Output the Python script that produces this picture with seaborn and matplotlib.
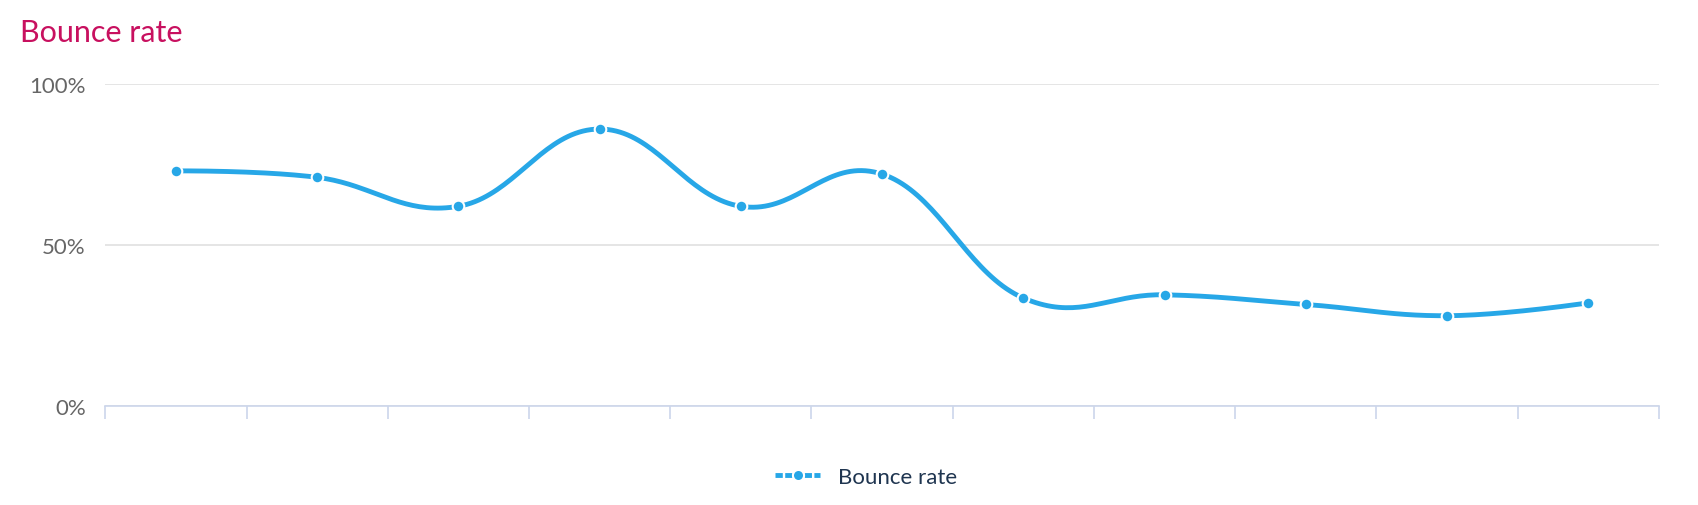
import numpy as np
import pandas as pd
import seaborn as sns
import matplotlib.pyplot as plt
from matplotlib.lines import Line2D

# --- Data ---
points = list(range(11))
bounce_rate = [73, 71, 62, 86, 62, 72, 33.5, 34.5, 31.5, 28, 32]
y_ticks = [0, 50, 100]
y_labels = ["0%", "50%", "100%"]

df = pd.DataFrame({"idx": points, "rate": bounce_rate})

blue = "#27a7e7"
sns.set_style("white")
plt.rcParams['font.family'] = ['Lato', 'DejaVu Sans']

fig = plt.figure(figsize=(16.98, 5.06), dpi=100)
ax = fig.add_axes([0.062, 0.196, 0.915, 0.636])


# smooth curve through the points (Highcharts-like spline)
def spline(xs, ys, n=40):
    xs = np.asarray(xs, float); ys = np.asarray(ys, float)
    out_x, out_y = [], []
    sm = 1.5
    for i in range(len(xs) - 1):
        p0, p3 = np.array([xs[i], ys[i]]), np.array([xs[i + 1], ys[i + 1]])
        def ctrl(j, side):
            if j == 0 or j == len(xs) - 1:
                return np.array([xs[j], ys[j]])
            lx = (sm * xs[j] + xs[j - 1]) / (sm + 1); ly = (sm * ys[j] + ys[j - 1]) / (sm + 1)
            rx = (sm * xs[j] + xs[j + 1]) / (sm + 1); ry = (sm * ys[j] + ys[j + 1]) / (sm + 1)
            corr = ((ry - ly) * (rx - xs[j])) / (rx - lx) + ys[j] - ry if rx != lx else 0
            ly += corr; ry += corr
            return np.array([lx, ly]) if side == "l" else np.array([rx, ry])
        p1 = ctrl(i, "r"); p2 = ctrl(i + 1, "l")
        t = np.linspace(0, 1, n)[:, None]
        c = (1 - t) ** 3 * p0 + 3 * (1 - t) ** 2 * t * p1 + 3 * (1 - t) * t ** 2 * p2 + t ** 3 * p3
        out_x.extend(c[:, 0]); out_y.extend(c[:, 1])
    return out_x, out_y

sx, sy = spline(points, bounce_rate)
sns.lineplot(x=sx, y=sy, ax=ax, color=blue, linewidth=3.5, sort=False, zorder=2)
sns.scatterplot(data=df, x="idx", y="rate", ax=ax, color=blue, s=70,
                edgecolor="white", linewidth=1.5, zorder=3)

ax.set_xlim(-0.5, 10.5)
ax.set_ylim(0, 100)
ax.set_yticks(y_ticks)
ax.set_yticklabels(y_labels)
ax.set_xticks(np.arange(-0.5, 11, 1))
ax.set_xticklabels([])
ax.set_xlabel("")
ax.set_ylabel("")
ax.grid(axis="y", color="#e0e0e0", linewidth=1.2)
ax.set_axisbelow(True)
for s in ["top", "right", "left"]:
    ax.spines[s].set_visible(False)
ax.spines["bottom"].set_color("#ccd6eb")
ax.spines["bottom"].set_linewidth(1.2)
ax.tick_params(axis="x", bottom=True, direction="out", length=9, color="#ccd6eb", width=1.2)
ax.tick_params(axis="y", length=0, labelsize=16, labelcolor="#666666", pad=14)

fig.text(0.012, 0.935, "Bounce rate", fontsize=22, color="#c8105f", va="center")

handle = Line2D([0], [0], color=blue, linewidth=3.5, linestyle=(0, (1.5, 0.5)),
                marker="o", markersize=8, markeredgecolor="white", markeredgewidth=1.5)
fig.legend([handle], ["Bounce rate"], loc="center", bbox_to_anchor=(0.51, 0.055),
           frameon=False, fontsize=16, labelcolor="#1f3550", handlelength=2.0)

fig.savefig("out.png", dpi=100)
